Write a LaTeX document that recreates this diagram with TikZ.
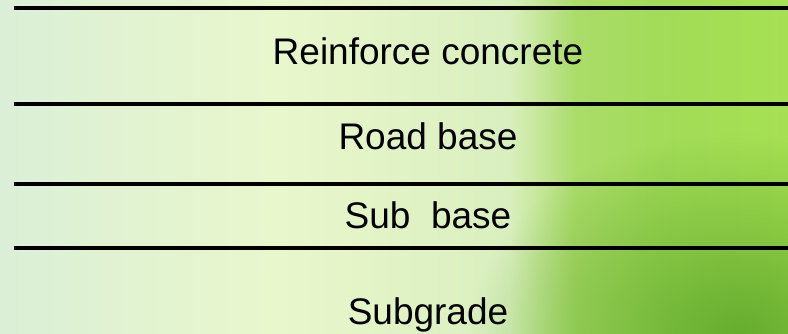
\documentclass[tikz,border=0pt]{standalone}
\usepackage{fontspec}
\setmainfont{Liberation Sans}
\usetikzlibrary{fadings}
\definecolor{bgA}{HTML}{DAEFD6}
\definecolor{bgB}{HTML}{E9F7CC}
\definecolor{bgC}{HTML}{D9EFBE}
\definecolor{bgD}{HTML}{ABDC6A}
\definecolor{bgE}{HTML}{A2DC58}
\definecolor{bgF}{HTML}{A6E052}
\definecolor{bgDark}{HTML}{5FA72A}
\tikzfading[name=blob, inner color=transparent!0, outer color=transparent!100]
\begin{document}
\begin{tikzpicture}[x=1pt,y=1pt,
  layer/.style={line width=4.8pt, black},
  lbl/.style={font=\fontsize{37}{40}\selectfont, anchor=base, inner sep=0pt}]
\useasboundingbox (0,0) rectangle (788,334);
% background
\begin{scope}
\clip (0,0) rectangle (788,334);
\fill[left color=bgA, right color=bgB] (0,0) rectangle (280,334);
\fill[left color=bgB, right color=bgC] (279.5,0) rectangle (510,334);
\fill[left color=bgC, right color=bgD] (509.5,0) rectangle (575,334);
\fill[left color=bgD, right color=bgE] (574.5,0) rectangle (660,334);
\fill[left color=bgE, right color=bgF] (659.5,0) rectangle (788,334);
\fill[bgDark, path fading=blob, fill opacity=0.9] (470,-200) rectangle (1010,200);
\end{scope}
% lines
\coordinate (a1) at (14,326); \coordinate (b1) at (788,326);
\coordinate (a2) at (14,230); \coordinate (b2) at (788,230);
\coordinate (a3) at (14,150); \coordinate (b3) at (788,150);
\coordinate (a4) at (14,86);  \coordinate (b4) at (788,86);
\draw[layer] (a1) -- (b1);
\draw[layer] (a2) -- (b2);
\draw[layer] (a3) -- (b3);
\draw[layer] (a4) -- (b4);
% labels
\node[lbl] (t1) at (428,269) {Reinforce concrete};
\node[lbl] (t2) at (428,184) {Road base};
\node[lbl] (t3) at (428,105) {Sub~~base};
\node[lbl] (t4) at (428,9) {Subgrade};
\end{tikzpicture}
\end{document}
